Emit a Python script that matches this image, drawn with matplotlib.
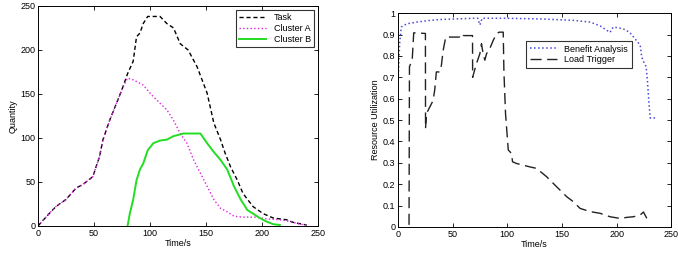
import matplotlib
matplotlib.use("Agg")
import matplotlib.pyplot as plt

plt.rcParams['font.family'] = ['Liberation Sans', 'DejaVu Sans']
plt.rcParams['font.size'] = 6.5

# left panel: quantity over time
a_x = [0, 10, 16, 25, 34, 40, 49, 55, 58, 64, 70, 75, 80,
       85, 94, 100, 106, 115, 121, 127, 133, 139, 145, 151, 157, 163,
       169, 175, 183, 195, 204, 216, 225, 234, 240]
a_y = [0, 14, 22, 30, 43, 47, 56, 79, 98, 120, 139, 155, 168,
       166, 160, 151, 143, 132, 120, 105, 94, 75, 60, 45, 30, 20,
       16, 11, 10, 10, 8, 7, 5, 2, 1]

task_x = [0, 10, 16, 25, 34, 40, 49, 55, 58, 64, 70, 75, 80,
          85, 88, 91, 94, 98, 109, 115, 121, 127, 134, 142, 151, 157,
          163, 167, 172, 178, 183, 192, 201, 210, 222, 228, 240]
task_y = [0, 14, 22, 30, 43, 47, 56, 79, 98, 120, 139, 155, 173,
          187, 215, 219, 230, 238, 238, 230, 225, 207, 200, 181, 151, 117,
          98, 83, 67, 52, 37, 22, 14, 9, 7, 4, 1]

b_x = [80, 82, 85, 88, 91, 94, 98, 103, 109, 115, 121, 130, 145,
       151, 157, 163, 169, 175, 181, 187, 192, 198, 204, 210, 216]
b_y = [0, 14, 30, 52, 64, 71, 86, 94, 97, 98, 102, 105, 105,
       94, 84, 75, 64, 45, 30, 18, 14, 9, 5, 2, 1]

# right panel: resource utilization
ben_x = [0, 1.5, 3, 8, 17, 29, 38, 69, 73, 75, 77, 99, 130, 161, 176,
         185, 191, 194, 197, 206, 212, 218.5, 221.6, 223, 225, 227, 228,
         229.5, 230.7, 237]
ben_y = [0.67, 0.857, 0.935, 0.95, 0.958, 0.966, 0.97, 0.976, 0.976, 0.945,
         0.976, 0.976, 0.973, 0.966, 0.958, 0.94, 0.92, 0.91, 0.935, 0.927,
         0.91, 0.87, 0.85, 0.795, 0.77, 0.75, 0.70, 0.59, 0.51, 0.51]

load_x = [10.1, 10.5, 13, 14.4, 25.1, 25.2, 26, 29, 32, 33.6, 35.1, 38.2,
          39.7, 41.3, 43.7, 45.8, 56.5, 58, 59.6, 68.2, 68.3, 71.8, 74.9,
          76.4, 77.9, 79.5, 81, 84, 87.1, 90.2, 92.6, 96.3, 96.9, 98.4,
          100.9, 103.9, 104.8, 108.5, 120.7, 126.8, 136, 145.2, 154.3,
          160.5, 166.6, 175.7, 184.9, 194, 203.2, 209.4, 215.5, 221.6,
          224.6, 227.7, 230.7]
load_y = [0.01, 0.75, 0.78, 0.908, 0.905, 0.46, 0.53, 0.56, 0.59, 0.64,
          0.725, 0.725, 0.755, 0.825, 0.888, 0.888, 0.888, 0.88, 0.895,
          0.895, 0.70, 0.764, 0.81, 0.857, 0.81, 0.78, 0.81, 0.834, 0.872,
          0.904, 0.911, 0.911, 0.73, 0.53, 0.36, 0.344, 0.305, 0.297, 0.281,
          0.274, 0.235, 0.188, 0.142, 0.118, 0.087, 0.072, 0.064, 0.048,
          0.040, 0.045, 0.048, 0.056, 0.07, 0.04, 0.04]

fig = plt.figure(figsize=(6.78, 2.68), dpi=100)
ax1 = fig.add_axes([0.056, 0.157, 0.413, 0.821])
ax2 = fig.add_axes([0.587, 0.153, 0.403, 0.798])

ax1.plot(task_x, task_y, color='black', linestyle=(0, (3, 2)), linewidth=1.0, label='Task')
ax1.plot(a_x, a_y, color='#e020e0', linestyle=':', linewidth=1.0, label='Cluster A')
ax1.plot(b_x, b_y, color='#22dd22', linestyle='-', linewidth=1.4, label='Cluster B')
ax1.set_xlim(0, 250)
ax1.set_ylim(0, 250)
ax1.set_xticks(range(0, 251, 50))
ax1.set_yticks(range(0, 251, 50))
ax1.set_xlabel('Time/s', labelpad=1)
ax1.set_ylabel('Quantity', labelpad=2)
leg1 = ax1.legend(loc='upper right', fancybox=False, edgecolor='black',
                  borderaxespad=0.4, handlelength=3.0, labelspacing=0.2)
leg1.get_frame().set_linewidth(0.8)

ax2.plot(ben_x, ben_y, color='#4a4ad8', linestyle=':', linewidth=1.1, label='Benefit Analysis')
ax2.plot(load_x, load_y, color='#222222', linestyle=(0, (8, 4)), linewidth=1.0, label='Load Trigger')
ax2.set_xlim(0, 250)
ax2.set_ylim(0, 1)
ax2.set_xticks(range(0, 251, 50))
ax2.set_yticks([i / 10 for i in range(11)])
ax2.set_yticklabels(['0', '0.1', '0.2', '0.3', '0.4', '0.5', '0.6', '0.7', '0.8', '0.9', '1'])
ax2.set_xlabel('Time/s', labelpad=1)
ax2.set_ylabel('Resource Utilization', labelpad=2)
leg2 = ax2.legend(loc='upper left', bbox_to_anchor=(0.47, 0.87), fancybox=False,
                  edgecolor='black', borderaxespad=0.0, handlelength=3.0, labelspacing=0.2)
leg2.get_frame().set_linewidth(0.8)

for ax in (ax1, ax2):
    ax.tick_params(direction='in', top=True, right=True, length=3, width=0.6, pad=2)
    for s in ax.spines.values():
        s.set_linewidth(0.7)

fig.savefig('out.png', dpi=100)
